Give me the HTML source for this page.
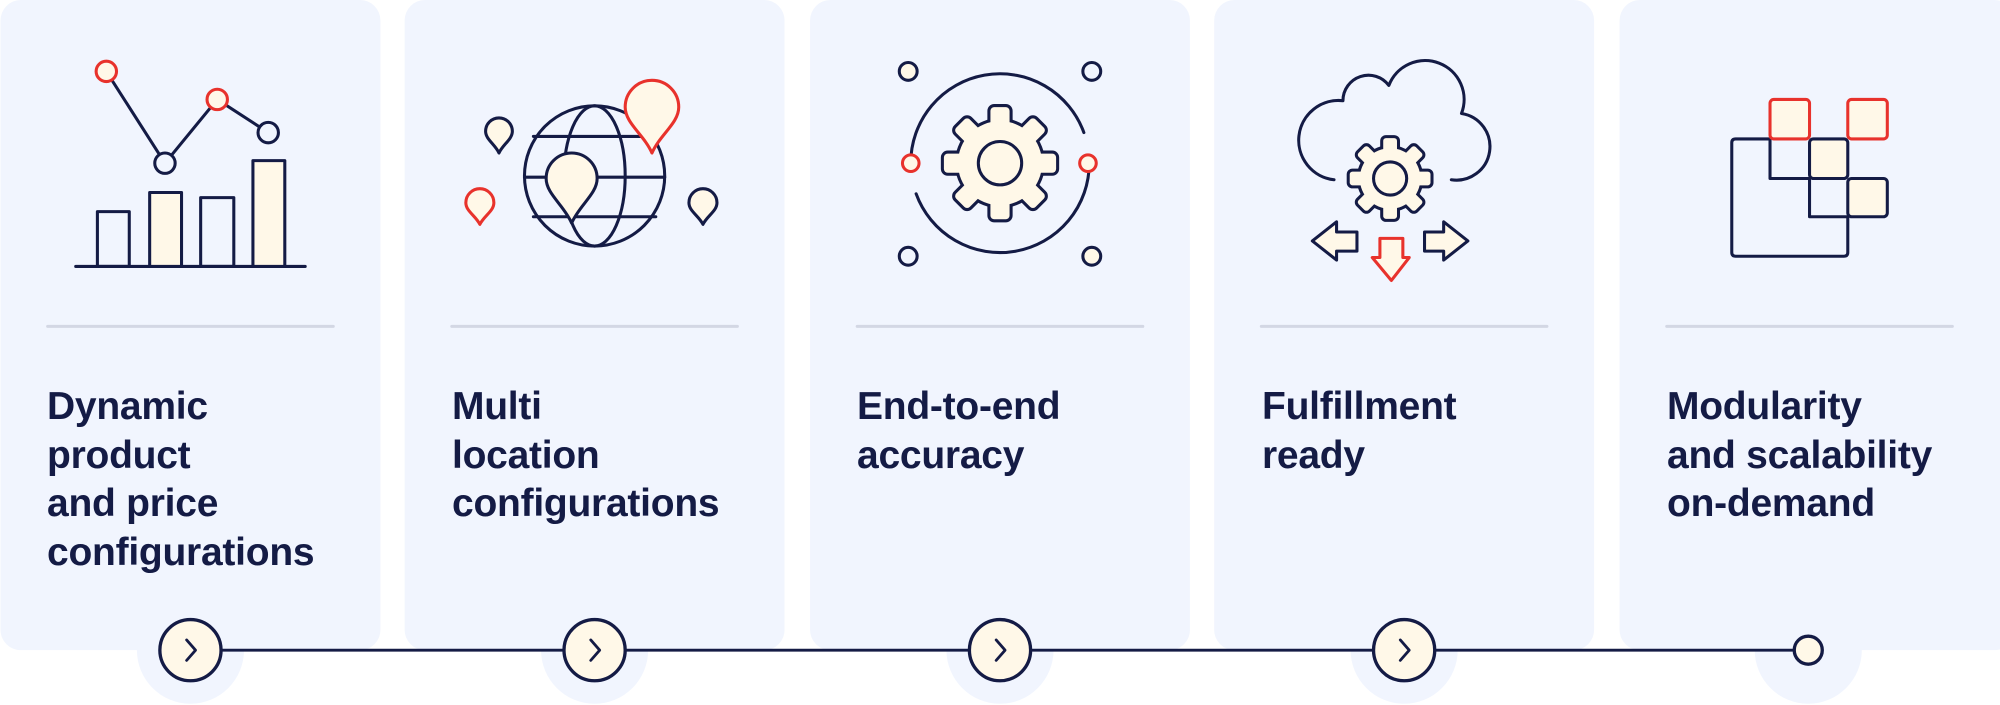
<!DOCTYPE html>
<html><head><meta charset="utf-8">
<style>
html,body{margin:0;padding:0;background:#fff;}
body{width:2000px;height:705px;position:relative;overflow:hidden;font-family:"Liberation Sans",sans-serif;}
svg{position:absolute;left:0;top:0;}
.t{position:absolute;top:383px;font-weight:bold;font-size:39px;line-height:48.5px;color:#141b45;letter-spacing:-0.25px;white-space:nowrap;}
</style></head><body>
<svg width="2000" height="705" viewBox="0 0 1568 553" xmlns="http://www.w3.org/2000/svg">
<defs>
<g id="gear3">
<circle r="33"/>
<g><rect x="-7.5" y="-44" width="15" height="20" rx="3"/><rect x="-7.5" y="24" width="15" height="20" rx="3"/><rect x="-44" y="-7.5" width="20" height="15" rx="3"/><rect x="24" y="-7.5" width="20" height="15" rx="3"/>
<g transform="rotate(45)"><rect x="-7.5" y="-44" width="15" height="20" rx="3"/><rect x="-7.5" y="24" width="15" height="20" rx="3"/><rect x="-44" y="-7.5" width="20" height="15" rx="3"/><rect x="24" y="-7.5" width="20" height="15" rx="3"/></g></g>
</g>
</defs>
<g fill="#f1f5fe">
<rect x="0" y="0" width="298" height="510" rx="16"/>
<rect x="317" y="0" width="298" height="510" rx="16"/>
<rect x="635" y="0" width="298" height="510" rx="16"/>
<rect x="952" y="0" width="298" height="510" rx="16"/>
<rect x="1270" y="0" width="310" height="510" rx="16"/>
<circle cx="149" cy="510" r="42"/><circle cx="466" cy="510" r="42"/><circle cx="784" cy="510" r="42"/><circle cx="1101" cy="510" r="42"/><circle cx="1418" cy="510" r="42"/>
</g>
<g stroke="#d3d7e4" stroke-width="2.4" stroke-linecap="round">
<line x1="37" y1="256" x2="261" y2="256"/><line x1="354" y1="256" x2="578" y2="256"/><line x1="672" y1="256" x2="896" y2="256"/><line x1="989" y1="256" x2="1213" y2="256"/><line x1="1307" y1="256" x2="1531" y2="256"/>
</g>
<g stroke="#141b45" stroke-width="2.4" fill="none" stroke-linejoin="round" stroke-linecap="round">
<line x1="59" y1="209" x2="239" y2="209"/>
<rect x="76" y="166" width="25" height="43" fill="none"/>
<rect x="117" y="151" width="25" height="58" fill="#fff8e8"/>
<rect x="157" y="155" width="26" height="54" fill="none"/>
<rect x="198" y="126" width="25" height="83" fill="#fff8e8"/>
<polyline points="83,56 129,128 170,78 210,104"/>
<circle cx="83" cy="56" r="8" fill="#fff8e8" stroke="#e8322c"/>
<circle cx="129" cy="128" r="8" fill="#f1f5fe"/>
<circle cx="170" cy="78" r="8" fill="#fff8e8" stroke="#e8322c"/>
<circle cx="210" cy="104" r="8" fill="#f1f5fe"/>
<circle cx="466" cy="138" r="55"/>
<ellipse cx="466" cy="138" rx="24" ry="55"/>
<line x1="418" y1="107" x2="514" y2="107"/><line x1="411" y1="139" x2="521" y2="139"/><line x1="418" y1="170" x2="514" y2="170"/>
<path d="M511,120 C504.7,105.6 490,96.6 490,84 A21,21 0 0 1 532,84 C532,96.6 517.3,105.6 511,120Z" fill="#fff8e8" stroke="#e8322c"/>
<path d="M448,175 C442,161 428,152 428,140 A20,20 0 0 1 468,140 C468,152 454,161 448,175Z" fill="#fff8e8"/>
<path d="M391,120 C387.9,113.2 380.5,109.3 380.5,103 A10.5,10.5 0 0 1 401.5,103 C401.5,109.3 394.1,113.2 391,120Z" fill="#fff8e8"/>
<path d="M376,176 C372.7,169.2 365,165.6 365,159 A11,11 0 0 1 387,159 C387,165.6 379.3,169.2 376,176Z" fill="#fff8e8" stroke="#e8322c"/>
<path d="M551,176 C547.7,169.2 540,165.6 540,159 A11,11 0 0 1 562,159 C562,165.6 554.3,169.2 551,176Z" fill="#fff8e8"/>
<path d="M714,128 A70,70 0 0 1 849.8,104"/>
<path d="M854,128 A70,70 0 0 1 718.2,152"/>
<circle cx="712" cy="56" r="7" fill="#fff8e8"/><circle cx="856" cy="56" r="7"/><circle cx="712" cy="201" r="7"/><circle cx="856" cy="201" r="7" fill="#fff8e8"/>
<circle cx="714" cy="128" r="6.5" fill="#fff8e8" stroke="#e8322c"/><circle cx="853" cy="128" r="6.5" fill="#fff8e8" stroke="#e8322c"/>
</g>
<g transform="translate(784,128)"><use href="#gear3" fill="#141b45" stroke="#141b45" stroke-width="4.8" stroke-linejoin="round"/><use href="#gear3" fill="#fff8e8" stroke="none"/></g>
<g transform="translate(1090,140) scale(0.72)"><use href="#gear3" fill="#141b45" stroke="#141b45" stroke-width="6.6" stroke-linejoin="round"/><use href="#gear3" fill="#fff8e8" stroke="none"/></g>
<g stroke="#141b45" stroke-width="2.4" fill="none" stroke-linejoin="round" stroke-linecap="round">
<circle cx="784" cy="128" r="17"/>
<circle cx="1090" cy="140" r="13"/>
<path d="M1046,141 A31,31 0 0 1 1053,79 A20,20 0 0 1 1089,67 A27,27 0 0 1 1146,89 A26,26 0 0 1 1138,141"/>
<path d="M1029,189 L1048,174 L1048,182 L1064,182 L1064,197 L1048,197 L1048,204 Z" fill="#fff8e8"/>
<path d="M1151,189 L1132,174 L1132,182 L1117,182 L1117,197 L1132,197 L1132,204 Z" fill="#fff8e8"/>
<path d="M1082,187 L1100,187 L1100,202 L1105,202 L1091,220 L1076,202 L1082,202 Z" fill="#fff8e8" stroke="#e8322c"/>
<path d="M1361,109 H1388 V140 H1419 V170 H1449 V198 Q1449,201 1446,201 H1361 Q1358,201 1358,198 V112 Q1358,109 1361,109 Z"/>
<rect x="1388" y="78" width="31" height="31" rx="3" fill="#fff8e8" stroke="#e8322c"/>
<rect x="1449" y="78" width="31" height="31" rx="3" fill="#fff8e8" stroke="#e8322c"/>
<rect x="1419" y="109" width="30" height="31" rx="3" fill="#fff8e8"/>
<rect x="1449" y="140" width="31" height="30" rx="3" fill="#fff8e8"/>
<line x1="149" y1="510" x2="1418" y2="510" stroke-width="2.2"/>
<g fill="#fff8e8" stroke-width="2.6">
<circle cx="149" cy="510" r="24"/><circle cx="466" cy="510" r="24"/><circle cx="784" cy="510" r="24"/><circle cx="1101" cy="510" r="24"/><circle cx="1418" cy="510" r="11"/>
</g>
<g stroke-width="2.2"><polyline points="146,502 153,510 146,518"/><polyline points="463,502 470,510 463,518"/><polyline points="781,502 788,510 781,518"/><polyline points="1098,502 1105,510 1098,518"/></g>
</g>
</svg>
<div class="t" style="left:47px">Dynamic<br>product<br>and price<br>configurations</div>
<div class="t" style="left:452px">Multi<br>location<br>configurations</div>
<div class="t" style="left:857px">End-to-end<br>accuracy</div>
<div class="t" style="left:1262px">Fulfillment<br>ready</div>
<div class="t" style="left:1667px">Modularity<br>and scalability<br>on-demand</div>
</body></html>
